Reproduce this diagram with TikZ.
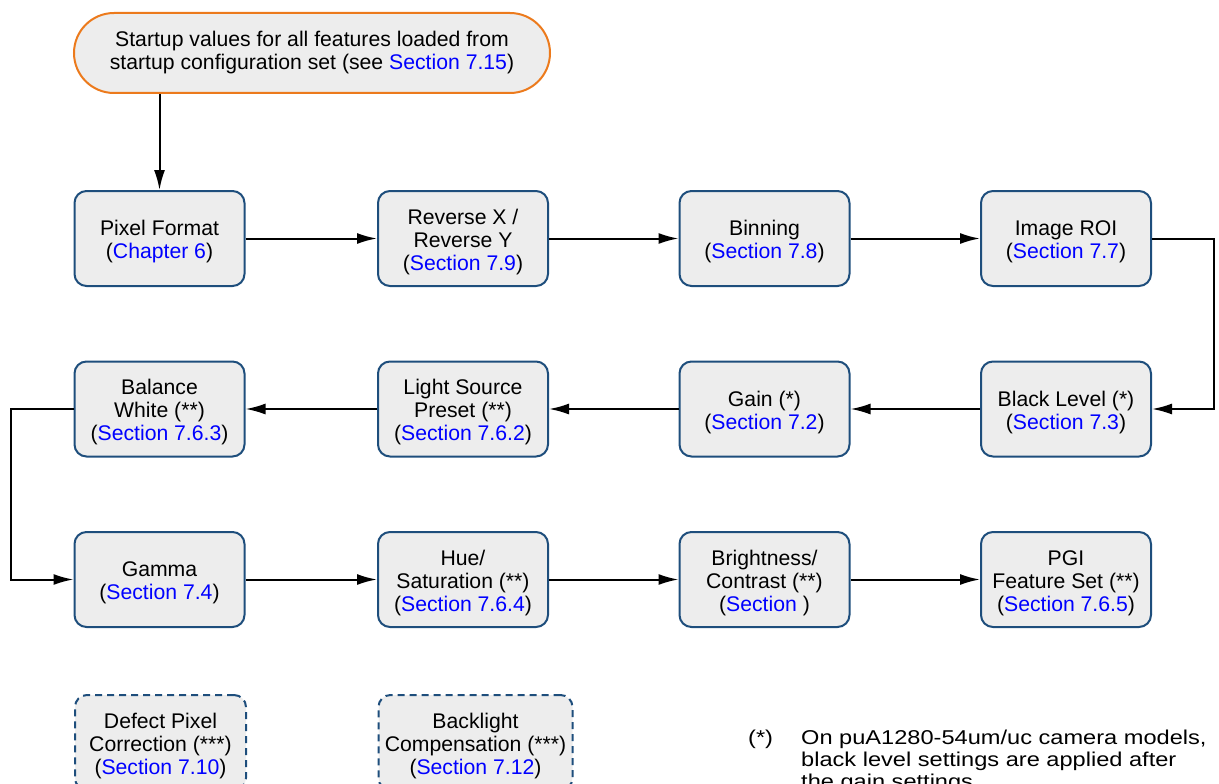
\documentclass[tikz,border=0pt]{standalone}
\usepackage{fontspec}
\setmainfont{Liberation Sans}
\newfontfamily\widefont[FakeStretch=1.18]{Liberation Sans}
\usetikzlibrary{arrows.meta}
\definecolor{boxblue}{RGB}{30,78,124}
\definecolor{boxfill}{RGB}{237,237,237}
\definecolor{startorange}{RGB}{236,122,28}
\definecolor{linkblue}{RGB}{0,0,255}
\newcommand\lk[1]{\textcolor{linkblue}{#1}}
\newcommand\boxfont{\fontsize{21.2}{23}\selectfont}
\newcommand\ts{\rule{0pt}{22pt}}
\tikzset{
  stepbox/.style={draw=boxblue, fill=boxfill, line width=2pt, rounded corners=12pt,
    minimum width=170pt, minimum height=95pt, align=center, inner sep=1pt, font=\boxfont},
  optbox/.style={stepbox, dashed, dash pattern=on 7pt off 5pt},
  startbox/.style={draw=startorange, fill=boxfill, line width=2pt, rounded corners=40pt,
    minimum width=476pt, minimum height=80pt, align=center, font=\boxfont},
  arr/.style={line width=2pt, -{Latex[length=20pt,width=11pt]}},
  fnote/.style={anchor=base west, inner sep=0pt, font=\widefont\fontsize{20}{22}\selectfont}
}
\begin{document}
\begin{tikzpicture}[x=1pt,y=-1pt]
\useasboundingbox (0,0) rectangle (1219,784);
\clip (0,0) rectangle (1219,784);
\node[startbox] (start) at (312,53) {Startup values for all features loaded from\\startup configuration set (see \lk{Section 7.15})};
% row 1
\node[stepbox] (pf) at (159.5,238.5) {\ts Pixel Format\\(\lk{Chapter 6})};
\node[stepbox] (rev) at (463,238.5) {\ts Reverse X /\\Reverse Y\\(\lk{Section 7.9})};
\node[stepbox] (bin) at (764.5,238.5) {\ts Binning\\(\lk{Section 7.8})};
\node[stepbox] (roi) at (1066,238.5) {\ts Image ROI\\(\lk{Section 7.7})};
% row 2
\node[stepbox] (bl) at (1066,409) {\ts Black Level (*)\\(\lk{Section 7.3})};
\node[stepbox] (gain) at (764.5,409) {\ts Gain (*)\\(\lk{Section 7.2})};
\node[stepbox] (ls) at (463,409) {\ts Light Source\\Preset (**)\\(\lk{Section 7.6.2})};
\node[stepbox] (bw) at (159.5,409) {\ts Balance\\White (**)\\(\lk{Section 7.6.3})};
% row 3
\node[stepbox] (gam) at (159.5,579.5) {\ts Gamma\\(\lk{Section 7.4})};
\node[stepbox] (hue) at (463,579.5) {\ts Hue/\\Saturation (**)\\(\lk{Section 7.6.4})};
\node[stepbox] (bri) at (764.5,579.5) {\ts Brightness/\\Contrast (**)\\(\lk{Section} )};
\node[stepbox] (pgi) at (1066,579.5) {\ts PGI\\Feature Set (**)\\(\lk{Section 7.6.5})};
% row 4 (optional)
\node[optbox, minimum width=171pt] (dpc) at (160.5,742.5) {\ts Defect Pixel\\Correction (***)\\(\lk{Section 7.10})};
\node[optbox, minimum width=194pt] (blc) at (475.5,742.5) {\ts Backlight\\Compensation (***)\\(\lk{Section 7.12})};
% connectors
\draw[arr] (pf.north |- start.south) -- (pf.north);
\draw[arr] (pf) -- (rev);
\draw[arr] (rev) -- (bin);
\draw[arr] (bin) -- (roi);
\draw[arr] (roi.east) -- ++(62,0) |- (bl.east);
\draw[arr] (bl) -- (gain);
\draw[arr] (gain) -- (ls);
\draw[arr] (ls) -- (bw);
\draw[arr] (bw.west) -- ++(-63,0) |- (gam.west);
\draw[arr] (gam) -- (hue);
\draw[arr] (hue) -- (bri);
\draw[arr] (bri) -- (pgi);
% footnote
\node[fnote] (fa) at (748,744) {(*)};
\node[fnote] (f1) at (801,744) {On puA1280-54um/uc camera models,};
\node[fnote] (f2) at (801,766) {black level settings are applied after};
\node[fnote] (f3) at (801,788) {the gain settings.};
\end{tikzpicture}
\end{document}
